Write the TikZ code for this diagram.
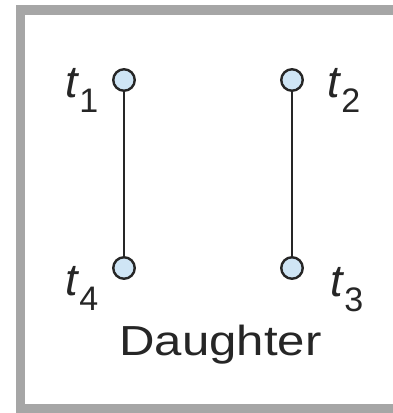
\documentclass[tikz,border=0pt]{standalone}
\usepackage{fontspec}
\setmainfont{Liberation Sans}
\usetikzlibrary{positioning}
\definecolor{framegray}{HTML}{A6A6A6}
\definecolor{ink}{HTML}{262626}
\definecolor{tfill}{HTML}{CFE5F5}
\newcommand{\tlab}[1]{\fontsize{45}{45}\selectfont\textit{t}\hspace{0pt}\raisebox{-15pt}{\fontsize{34}{34}\selectfont #1}}
\tikzset{
  vtx/.style={circle, draw=ink, line width=2.4pt, fill=tfill, minimum size=21.5pt, inner sep=0pt},
  edge/.style={draw=ink, line width=2pt},
  tl/.style={text=ink, inner sep=0pt, anchor=base west}
}
\begin{document}
\begin{tikzpicture}[x=1pt,y=-1pt]
\useasboundingbox (0,0) rectangle (393,413);
\fill[white] (0,0) rectangle (393,413);
% frame
\fill[framegray] (16,5) rectangle (393,14.5);
\fill[framegray] (16,5) rectangle (25,413);
\fill[framegray] (16,404) rectangle (393,413);
% vertices
\node[vtx] (v1) at (124,80) {};
\node[vtx] (v2) at (292,80) {};
\node[vtx] (v4) at (124,268) {};
\node[vtx] (v3) at (292,268) {};
\path[edge] (v1) -- (v4);
\path[edge] (v2) -- (v3);
% labels
\node[tl] (l1) at (65,97) {\tlab{1}};
\node[tl] (l2) at (327,97) {\tlab{2}};
\node[tl] (l4) at (65,295) {\tlab{4}};
\node[tl] (l3) at (330,296) {\tlab{3}};
\node[text=ink, inner sep=0pt, anchor=base] (d) at (220.5,355) {\scalebox{1.17}[1]{\fontsize{42}{42}\selectfont Daughter}};
\end{tikzpicture}
\end{document}
